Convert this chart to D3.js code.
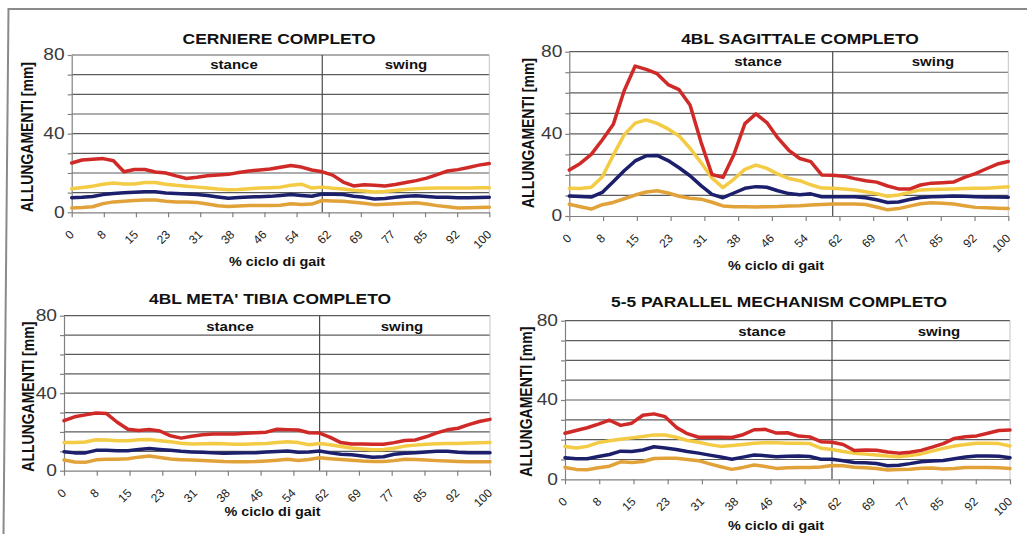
<!DOCTYPE html>
<html>
<head>
<meta charset="utf-8">
<script src="https://cdn.jsdelivr.net/npm/d3@7"></script>
<style>
  body { margin: 0; background: #fff; }
  svg { display: block; }
  text { font-family: "Liberation Sans", Arial, sans-serif; }
</style>
</head>
<body>
<svg id="chart" width="1027" height="534"></svg>
<script>
// Gait cycle sampling (% of cycle)
const gaitPct = [0, 2.5, 5, 7.5, 10, 12.5, 15, 17.5, 20, 22.5, 25, 27.5, 30, 32.5, 35, 37.5,
  40, 42.5, 45, 47.5, 50, 52.5, 55, 57.5, 60, 62.5, 65, 67.5, 70, 72.5, 75, 77.5,
  80, 82.5, 85, 87.5, 90, 92.5, 95, 97.5, 100];

// Category tick labels on the gait axis
const tickLabels = ["0", "8", "15", "23", "31", "38", "46", "54", "62", "69", "77", "85", "92", "100"];
const yLabels = [0, 40, 80];
const yGrid = [0, 10, 20, 30, 40, 50, 60, 70, 80];
const phaseLabels = ["stance", "swing"];
const stanceEnd = 60;

// Elongations [mm] — hinge joint
const cerniereMax   = [25.1, 26.6, 27, 27.3, 26.2, 20.6, 21.8, 21.8, 20.5, 20, 18.5, 17.2, 17.8, 18.6, 19, 19.3, 20.2, 21, 21.5, 22, 22.9, 23.8, 23, 21.5, 20.6, 18.9, 15.4, 13.4, 14, 13.7, 13.4, 14.1, 15.2, 16.1, 17.4, 19.2, 21, 21.7, 22.8, 24, 24.8];
const cerniereUpper = [12, 12.6, 13.3, 14.3, 14.9, 14.4, 14.4, 15.2, 15.2, 14.3, 13.7, 13.3, 12.8, 12.3, 11.8, 11.5, 11.6, 12, 12.3, 12.5, 12.8, 13.8, 14.3, 12.3, 12.8, 12.2, 11.8, 11.2, 10.8, 10.3, 10.6, 11.1, 11.6, 12, 12.2, 12.3, 12.3, 12.3, 12.4, 12.5, 12.5];
const cerniereMean  = [7.4, 7.6, 8, 9, 9.6, 9.9, 10.2, 10.5, 10.4, 9.8, 9.6, 9.3, 9, 8.5, 7.8, 7.2, 7.5, 7.8, 7.9, 8.1, 8.6, 9.1, 8.6, 8.2, 9.3, 9.2, 9, 8.2, 7.6, 6.8, 7, 7.6, 8.2, 8.4, 8, 7.7, 7.6, 7.4, 7.4, 7.5, 7.7];
const cerniereLower = [2.2, 2.4, 2.8, 4.4, 5.3, 5.6, 6, 6.3, 6.2, 5.6, 5.3, 5.2, 5, 4.2, 3.3, 2.9, 3.2, 3.4, 3.4, 3.5, 3.6, 4.3, 4, 4.2, 6, 5.8, 5.6, 5.1, 4.6, 3.9, 4.1, 4.3, 4.6, 4.8, 4.2, 3.4, 2.8, 2.2, 2.3, 2.4, 2.6];

// Sagittal four-bar linkage
const sagittaleMax   = [22.4, 25.6, 30, 37, 44.5, 61, 73, 71.4, 69.3, 64, 61.5, 54, 36, 20.2, 18.8, 30, 45, 49.7, 45.5, 38, 32, 28, 26.5, 20, 19.8, 19.4, 18.2, 17.2, 16.5, 14.6, 13.2, 13.1, 15.1, 16, 16.2, 16.5, 18.8, 20.6, 23, 25.3, 26.5];
const sagittaleUpper = [13.5, 13.4, 14, 19, 29.5, 39.5, 45.2, 46.8, 45.1, 42.4, 39, 33, 26, 18.5, 13.8, 18, 22.7, 24.8, 23.2, 20.4, 18.3, 17.2, 15.2, 13.6, 13.5, 13.1, 12.7, 11.8, 10.8, 9.6, 10.2, 11.5, 12.7, 12.9, 13, 13.2, 13.4, 13.5, 13.5, 13.9, 14.3];
const sagittaleMean  = [9.7, 9.5, 9.2, 11.5, 16.7, 22, 26.8, 29.3, 29.5, 27, 23.5, 19.6, 14.8, 10.5, 8.9, 11.2, 13.5, 14.3, 14, 12.3, 10.9, 10.4, 10.8, 9.4, 9.4, 9.4, 9.4, 8.9, 7.9, 6.6, 6.8, 8, 9, 9.4, 9.5, 9.7, 9.6, 9.4, 9.3, 9.2, 9.1];
const sagittaleLower = [5.7, 4.5, 3.4, 5.5, 6.6, 8.4, 10.2, 11.7, 12.3, 11.2, 9.6, 8.6, 8.2, 6.7, 4.9, 4.5, 4.5, 4.4, 4.5, 4.6, 4.9, 5, 5.3, 5.6, 5.8, 5.8, 5.8, 5.6, 4.4, 3, 3.6, 4.8, 6, 6.4, 6.2, 5.8, 5, 4.2, 4, 3.8, 3.7];

// Four-bar linkage at mid tibia
const tibiaMax   = [25.8, 27.8, 28.8, 29.8, 29.5, 25, 21.4, 20.8, 21.3, 20.5, 18, 16.8, 17.8, 18.6, 18.9, 18.9, 18.9, 19.3, 19.6, 19.9, 21.4, 21.2, 21, 19.6, 19.4, 17.2, 14.5, 13.8, 13.8, 13.6, 13.6, 14.5, 15.6, 15.9, 17.5, 19.5, 21.1, 21.9, 23.8, 25.4, 26.5];
const tibiaUpper = [14.5, 14.5, 14.8, 16, 15.9, 15.4, 15.5, 16, 16.1, 15.5, 14.9, 14.2, 13.8, 13.9, 14.1, 13.9, 13.7, 13.7, 13.9, 14.1, 14.5, 15, 14.5, 13.4, 14, 13.4, 12.5, 11.7, 11.2, 10.8, 10.9, 11.6, 12.7, 13.2, 13.6, 13.9, 14, 14.1, 14.3, 14.4, 14.5];
const tibiaMean  = [9.8, 9.2, 9.2, 10.5, 10.6, 10.3, 10.3, 11, 11.4, 11, 10.5, 10, 9.7, 9.5, 9.2, 9, 9.1, 9.2, 9.3, 9.6, 9.9, 10.2, 9.5, 9.6, 10.2, 9.2, 8.5, 8.2, 7.6, 6.9, 7.2, 8.5, 9, 9.3, 9.7, 10.1, 10, 9.5, 9.3, 9.3, 9.3];
const tibiaLower = [5.5, 4.5, 4.3, 5.6, 5.9, 5.9, 6.2, 7, 7.6, 6.8, 6, 5.7, 5.5, 5.3, 5, 4.7, 4.6, 4.6, 4.7, 5, 5.4, 5.9, 5.3, 5.8, 6.7, 6.2, 5.8, 5.4, 5, 4.8, 4.7, 5.2, 5.9, 5.8, 5.5, 5.2, 5, 4.8, 4.6, 4.6, 4.6];

// 5-5 parallel mechanism
const parallelMax   = [23.2, 24.6, 26, 27.8, 29.8, 27.2, 28.3, 32.3, 33, 31.6, 26.2, 23, 21.2, 21.2, 21.2, 21.1, 22.5, 25, 25.2, 23.3, 23.5, 21.8, 21.4, 19, 18.7, 17.6, 14.5, 14.8, 14.6, 13.8, 13.2, 13.6, 14.6, 16.2, 18, 20.6, 21.5, 21.9, 23.2, 24.6, 24.9];
const parallelUpper = [16.5, 15.8, 16.6, 18.5, 19.4, 20.2, 20.9, 21.6, 22.4, 22.3, 21.2, 19.6, 18.7, 17.5, 16.6, 17, 17.6, 18.2, 18.5, 18.4, 18.2, 18.2, 18, 15.7, 15, 14, 13.1, 12.7, 12.3, 11.7, 11.4, 12, 12.8, 14.2, 15.6, 16.8, 17.6, 18.2, 18.2, 18, 16.8];
const parallelMean  = [10.9, 10.4, 10.4, 11.5, 12.5, 14.2, 14, 14.8, 16.4, 15.8, 15, 14, 13.2, 12.2, 11.2, 10.1, 11.2, 12.3, 11.9, 11.4, 11.6, 11.8, 11.5, 10.1, 10.1, 9.4, 8.5, 8.3, 8, 6.8, 7.1, 7.9, 8.9, 9.2, 9.5, 10.4, 11.2, 11.8, 11.8, 11.6, 10.9];
const parallelLower = [6, 5, 4.8, 5.8, 6.6, 8.8, 8.5, 9, 10.5, 10.6, 10.6, 10, 9.4, 7.8, 6.3, 5, 6, 7.2, 6.5, 5.5, 5.8, 6, 6, 6.2, 7, 6.8, 6.1, 5.8, 5.4, 4.7, 4.9, 5.1, 5.6, 5.7, 5.2, 5.4, 5.9, 6, 6, 5.8, 5.5];

// Line colours, drawn bottom to top: lower, upper, mean, max
const lineColors = ["#e2a23a", "#f3cb44", "#1c1f6c", "#cf2a27"];

const panels = [
  { title: "CERNIERE COMPLETO",
    series: [cerniereLower, cerniereUpper, cerniereMean, cerniereMax],
    box: { l: 71.7, r: 489.3, t: 55, b: 212.3 },
    titleAt: [279, 44], stanceAt: [234, 69], swingAt: [406, 69],
    xTitleAt: [277, 266], yTitleAt: [27.5, 137] },
  { title: "4BL SAGITTALE COMPLETO",
    series: [sagittaleLower, sagittaleUpper, sagittaleMean, sagittaleMax],
    box: { l: 569.3, r: 1008.3, t: 51.7, b: 216 },
    titleAt: [800, 44], stanceAt: [758, 66], swingAt: [933, 66],
    xTitleAt: [776, 270], yTitleAt: [528.5, 133] },
  { title: "4BL META' TIBIA COMPLETO",
    series: [tibiaLower, tibiaUpper, tibiaMean, tibiaMax],
    box: { l: 64, r: 490, t: 315.7, b: 470.7 },
    titleAt: [270, 304], stanceAt: [230, 330.5], swingAt: [402, 330.5],
    xTitleAt: [272.5, 516], yTitleAt: [28, 396.7] },
  { title: "5-5 PARALLEL MECHANISM COMPLETO",
    series: [parallelLower, parallelUpper, parallelMean, parallelMax],
    box: { l: 565, r: 1010, t: 320.7, b: 479.3 },
    titleAt: [779, 306.5], stanceAt: [762, 336], swingAt: [939, 336],
    xTitleAt: [776, 530], yTitleAt: [526, 401.7] }
];

const svg = d3.select("#chart");
const STRETCH = 1.2;

// outer frame: left and top edges
svg.append("line").attr("x1", 8.5).attr("y1", 9).attr("x2", 3.5).attr("y2", 534)
  .attr("stroke", "#8a8a8a").attr("stroke-width", 2);
svg.append("line").attr("x1", 7.5).attr("y1", 9).attr("x2", 1027).attr("y2", 9)
  .attr("stroke", "#8a8a8a").attr("stroke-width", 2);

function wideText(g, txt, x, y, opts = {}) {
  const rot = opts.rotate ? ` rotate(${opts.rotate})` : "";
  return g.append("text")
    .attr("transform", `translate(${x},${y}) scale(${STRETCH},1)${rot}`)
    .attr("text-anchor", opts.anchor || "middle")
    .attr("dominant-baseline", opts.baseline || "auto")
    .attr("font-size", opts.size || 12)
    .attr("font-weight", opts.weight || "normal")
    .attr("fill", opts.fill || "#111")
    .text(txt);
}

const tickPos = tickLabels.map((_, i) => i * 100 / (tickLabels.length - 1));
const labelLayer = [];

panels.forEach(p => {
  const g = svg.append("g");
  const { l, r, t, b } = p.box;
  const x = d3.scaleLinear().domain([0, 100]).range([l, r]);
  const y = d3.scaleLinear().domain([0, 80]).range([b, t]);

  // horizontal gridlines every 10 mm
  g.append("g").selectAll("line").data(yGrid.filter(v => v > 0)).join("line")
    .attr("x1", l).attr("x2", r)
    .attr("y1", d => y(d)).attr("y2", d => y(d))
    .attr("stroke", "#5c5c5c").attr("stroke-width", 1.2);

  // right edge of plot area
  g.append("line").attr("x1", r).attr("x2", r).attr("y1", t).attr("y2", b)
    .attr("stroke", "#c4c4c4").attr("stroke-width", 1);

  // stance / swing divider
  g.append("line").attr("x1", x(stanceEnd)).attr("x2", x(stanceEnd))
    .attr("y1", t).attr("y2", b)
    .attr("stroke", "#4a4a4a").attr("stroke-width", 1.2);

  // y axis with ticks at every gridline
  const yAxis = g.append("g").attr("transform", `translate(${l},0)`)
    .call(d3.axisLeft(y).tickValues(yGrid).tickSize(4).tickSizeOuter(0).tickFormat(""));
  yAxis.selectAll("path, line").attr("stroke", "#808080").attr("stroke-width", 1.2);

  // x axis
  const xAxis = g.append("g").attr("transform", `translate(0,${b})`)
    .call(d3.axisBottom(x).tickValues(tickPos).tickSize(5).tickSizeOuter(0).tickFormat(""));
  xAxis.selectAll("path, line").attr("stroke", "#808080").attr("stroke-width", 1.2);

  // y tick labels
  yLabels.forEach(v => {
    wideText(g, String(v), l - 7, y(v), { anchor: "end", baseline: "central", size: 16, fill: "#3a3a3a" });
  });

  // series
  const line = d3.line().x(d => x(d[0])).y(d => y(d[1]));
  p.series.forEach((vals, i) => {
    g.append("path")
      .datum(gaitPct.map((pct, k) => [pct, vals[k]]))
      .attr("d", line)
      .attr("fill", "none")
      .attr("stroke", lineColors[i])
      .attr("stroke-width", 3.5)
      .attr("stroke-linejoin", "round")
      .attr("stroke-linecap", "round");
  });

  // titles and labels
  wideText(g, p.title, p.titleAt[0], p.titleAt[1], { size: 14.5, weight: "bold" });
  wideText(g, phaseLabels[0], p.stanceAt[0], p.stanceAt[1], { size: 12.5, weight: "bold" });
  wideText(g, phaseLabels[1], p.swingAt[0], p.swingAt[1], { size: 12.5, weight: "bold" });
  wideText(g, "% ciclo di gait", p.xTitleAt[0], p.xTitleAt[1], { size: 12, weight: "bold" });
  wideText(g, "ALLUNGAMENTI [mm]", p.yTitleAt[0], p.yTitleAt[1],
    { size: 14, weight: "bold", rotate: -90, baseline: "central" });

  tickLabels.forEach((lab, i) => labelLayer.push({ lab, px: x(tickPos[i]) + 3, py: b + 23 }));
});

// slanted x tick labels, drawn last at the top level
labelLayer.forEach(d => {
  svg.append("text")
    .attr("transform", `matrix(0.7071,-0.7071,0.7071,0.7071,${d.px},${d.py})`)
    .attr("text-anchor", "end")
    .attr("font-size", 12)
    .attr("fill", "#222")
    .text(d.lab);
});
</script>
</body>
</html>
